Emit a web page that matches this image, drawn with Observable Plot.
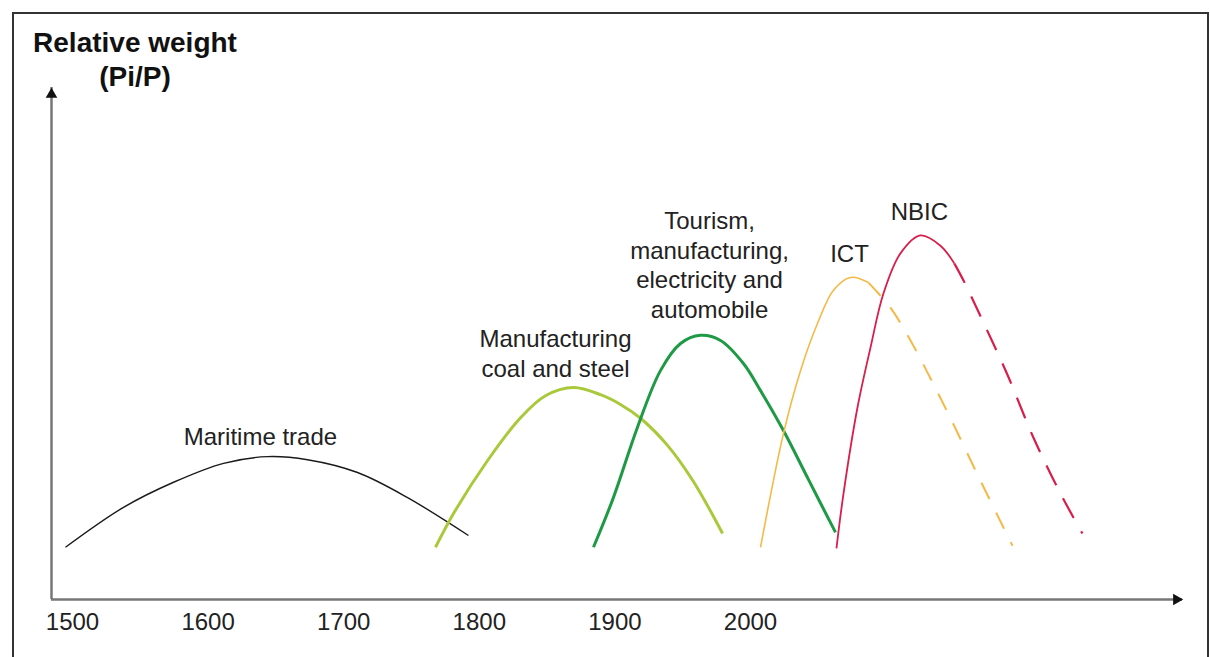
<!DOCTYPE html>
<html>
<head>
<meta charset="utf-8">
<script src="https://cdn.jsdelivr.net/npm/d3@7"></script>
<script src="https://cdn.jsdelivr.net/npm/@observablehq/plot@0.6"></script>
<style>
  html, body { margin: 0; padding: 0; background: #fff; overflow: hidden; }
  #wrap { position: relative; width: 1210px; height: 657px; }
  #frame { position: absolute; left: 12px; top: 12px; width: 1197px; height: 700px;
           border: 2px solid #333; border-bottom: none; box-sizing: border-box; }
  #title { position: absolute; left: 0; top: 26px; width: 270px; text-align: center;
           font: bold 28px "Liberation Sans", Arial, sans-serif; line-height: 34px; color: #111; }
  #chart { position: absolute; left: 0; top: 0; }
</style>
</head>
<body>
<div id="wrap">
  <div id="frame"></div>
  <div id="chart"></div>
  <div id="title">Relative weight<br>(Pi/P)</div>
</div>
<script>
// ---- Data (years on x, relative weight on an arbitrary 0–100 scale) ----
const tickYears = [1500, 1600, 1700, 1800, 1900, 2000];
const xDomain = [1484.5, 2318.6];
const yDomain = [0, 100];

const maritimeYears  = [1494.8, 1537.6, 1574.5, 1611.4, 1643.8, 1673.3, 1710.2, 1747.1, 1792.0];
const maritimeValues = [10.2, 18.0, 22.9, 26.6, 27.9, 27.3, 24.8, 19.9, 12.5];

const coalYears  = [1767.7, 1781.0, 1806.0, 1830.4, 1848.8, 1869.5, 1889.4, 1904.1, 1918.9, 1938.8, 1958.0, 1979.4];
const coalValues = [10.2, 16.8, 27.1, 35.5, 39.8, 41.4, 40.0, 38.1, 35.4, 30.1, 23.0, 12.9];

const tourismYears  = [1884.2, 1898.9, 1916.6, 1933.6, 1948.4, 1963.1, 1977.9, 1994.8, 2007.4, 2024.3, 2042.8, 2062.7];
const tourismValues = [10.2, 19.9, 33.6, 44.7, 50.0, 51.6, 50.6, 46.1, 40.8, 33.0, 23.4, 13.1];

const ictYears  = [2007.4, 2024.3, 2036.9, 2049.4, 2061.2, 2073.7, 2087.0];
const ictValues = [10.2, 32.4, 44.7, 53.9, 60.4, 62.9, 61.9];
const ictProjYears  = [2087.0, 2103.2, 2118.0, 2132.7, 2147.5, 2169.6, 2193.2];
const ictProjValues = [61.9, 57.0, 50.6, 43.2, 35.4, 23.2, 10.5];

const nbicYears  = [2063.4, 2068.6, 2078.9, 2088.5, 2098.1, 2110.6, 2125.4, 2140.1, 2150.4];
const nbicValues = [10.0, 20.7, 37.5, 49.2, 59.8, 67.6, 71.1, 69.1, 65.6];
const nbicProjYears  = [2150.4, 2157.1, 2171.8, 2189.5, 2208.7, 2228.6, 2244.8];
const nbicProjValues = [65.6, 62.3, 54.1, 43.9, 31.6, 20.7, 12.9];

const labelTexts  = ["Maritime trade", "Manufacturing\ncoal and steel",
                     "Tourism,\nmanufacturing,\nelectricity and\nautomobile", "ICT", "NBIC"];
const labelYears  = [1638.6, 1856.2, 1969.8, 2073.0, 2124.6];
const labelValues = [32.1, 48.2, 65.5, 67.7, 75.9];

// ---- Build tables ----
const toRows = (xs, ys) => xs.map((x, i) => ({year: x, value: ys[i]}));
const segments = [
  {rows: toRows(maritimeYears, maritimeValues), stroke: "#1a1a1a", width: 1.4, dash: null},
  {rows: toRows(coalYears, coalValues),         stroke: "#a9c93a", width: 3,   dash: null},
  {rows: toRows(tourismYears, tourismValues),   stroke: "#1e9a45", width: 3,   dash: null},
  {rows: toRows(ictYears, ictValues),           stroke: "#f5b947", width: 1.6, dash: null},
  {rows: toRows(ictProjYears, ictProjValues),   stroke: "#f5b947", width: 2,   dash: "18,15"},
  {rows: toRows(nbicYears, nbicValues),         stroke: "#d81e4b", width: 1.8, dash: null},
  {rows: toRows(nbicProjYears, nbicProjValues), stroke: "#d81e4b", width: 2.2, dash: "22,15"}
];
const labels = labelTexts.map((t, i) => ({text: t, year: labelYears[i], value: labelValues[i]}));

const lineMarks = segments.map(s => Plot.line(s.rows, {
  x: "year", y: "value", curve: "catmull-rom",
  stroke: s.stroke, strokeWidth: s.width,
  strokeDasharray: s.dash ?? undefined, strokeLinecap: "butt"
}));

const chart = Plot.plot({
  width: 1210, height: 657,
  marginTop: 87, marginBottom: 58, marginLeft: 51, marginRight: 28,
  x: {domain: xDomain, label: null},
  y: {domain: yDomain, axis: null},
  style: {fontFamily: '"Liberation Sans", Arial, sans-serif', fontSize: "24px", color: "#222", background: "transparent"},
  marks: [
    Plot.axisX({ticks: tickYears, tickSize: 0, tickPadding: 13, fontSize: 24, tickFormat: d => String(d), label: null}),
    Plot.ruleY([yDomain[0]], {stroke: "#777", strokeWidth: 2.5}),
    Plot.ruleX([xDomain[0]], {stroke: "#777", strokeWidth: 2.5}),
    ...lineMarks,
    Plot.text(labels, {x: "year", y: "value", text: "text", lineAnchor: "middle", lineHeight: 1.23, fontSize: 24, fill: "#222"}),
    Plot.dot([{x: xDomain[1], y: yDomain[0]}], {x: "x", y: "y", symbol: "triangle", r: 4.3, fill: "#111", stroke: "none", rotate: 90, dx: -6}),
    Plot.dot([{x: xDomain[0], y: yDomain[1]}], {x: "x", y: "y", symbol: "triangle", r: 4.3, fill: "#111", stroke: "none", dy: 7})
  ]
});
document.getElementById("chart").appendChild(chart);
</script>
</body>
</html>
